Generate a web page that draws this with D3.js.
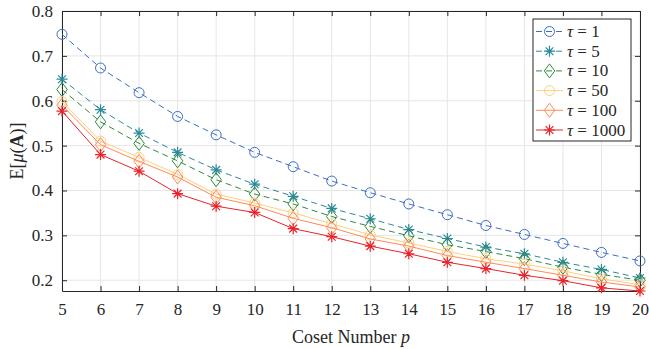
<!DOCTYPE html>
<html>
<head>
<meta charset="utf-8">
<script src="https://cdn.jsdelivr.net/npm/d3@7"></script>
<style>
  body { margin: 0; background: #fff; }
</style>
</head>
<body>
<div id="chart"></div>
<script>
'use strict';

var cosets = [5, 6, 7, 8, 9, 10, 11, 12, 13, 14, 15, 16, 17, 18, 19, 20];
var tau1 = [0.748, 0.673, 0.618, 0.565, 0.524, 0.485, 0.453, 0.421, 0.395, 0.370, 0.346, 0.322, 0.302, 0.282, 0.262, 0.243];
var tau5 = [0.648, 0.580, 0.528, 0.485, 0.446, 0.414, 0.387, 0.360, 0.337, 0.313, 0.293, 0.274, 0.259, 0.240, 0.224, 0.205];
var tau10 = [0.625, 0.553, 0.505, 0.466, 0.424, 0.392, 0.370, 0.342, 0.320, 0.299, 0.279, 0.264, 0.248, 0.229, 0.213, 0.200];
var tau50 = [0.598, 0.510, 0.474, 0.436, 0.392, 0.372, 0.350, 0.326, 0.301, 0.283, 0.264, 0.248, 0.236, 0.221, 0.203, 0.190];
var tau100 = [0.590, 0.502, 0.465, 0.430, 0.385, 0.366, 0.338, 0.317, 0.292, 0.276, 0.255, 0.240, 0.226, 0.211, 0.196, 0.185];
var tau1000 = [0.577, 0.480, 0.443, 0.393, 0.365, 0.351, 0.315, 0.297, 0.276, 0.259, 0.240, 0.226, 0.211, 0.199, 0.183, 0.176];
var seriesNames = ['1', '5', '10', '50', '100', '1000'];
var yTicks = [0.2, 0.3, 0.4, 0.5, 0.6, 0.7, 0.8];

var FONT = '"Liberation Serif", "Times New Roman", Times, "DejaVu Serif", serif';

var series = [
    { name: seriesNames[0], values: tau1, color: '#3c6ec6', marker: 'circle', dash: '6,4' },
    { name: seriesNames[1], values: tau5, color: '#2b8a9c', marker: 'star', dash: '6,4' },
    { name: seriesNames[2], values: tau10, color: '#2e8a3c', marker: 'diamond', dash: '6,4' },
    { name: seriesNames[3], values: tau50, color: '#ffcf80', marker: 'circle', dash: null },
    { name: seriesNames[4], values: tau100, color: '#ff8a55', marker: 'diamond', dash: null },
    { name: seriesNames[5], values: tau1000, color: '#e8232b', marker: 'star', dash: null }
];

var W = 649, H = 349;
var m = { left: 62, right: 9, top: 11, bottom: 58 };

var svg = d3.select('#chart').append('svg')
    .attr('width', W).attr('height', H)
    .style('font-family', FONT);

var x = d3.scaleLinear().domain([5, 20]).range([m.left, W - m.right]);
var y = d3.scaleLinear().domain([0.176, 0.8]).range([H - m.bottom, m.top]);

// grid
var grid = svg.append('g').attr('stroke', '#e6e6e6').attr('stroke-width', 1);
cosets.forEach(function (c) {
    grid.append('line').attr('x1', x(c)).attr('x2', x(c)).attr('y1', y.range()[0]).attr('y2', y.range()[1]);
});
yTicks.forEach(function (t) {
    grid.append('line').attr('x1', x.range()[0]).attr('x2', x.range()[1]).attr('y1', y(t)).attr('y2', y(t));
});

// axes
var xAxis = d3.axisBottom(x).tickValues(cosets).tickFormat(d3.format('d')).tickSizeInner(-5).tickSizeOuter(0).tickPadding(12);
var yAxis = d3.axisLeft(y).tickValues(yTicks).tickFormat(d3.format('.1f')).tickSizeInner(-5).tickSizeOuter(0).tickPadding(9);

var gx = svg.append('g').attr('transform', 'translate(0,' + y.range()[0] + ')').call(xAxis);
var gy = svg.append('g').attr('transform', 'translate(' + x.range()[0] + ',0)').call(yAxis);
var gxTop = svg.append('g').attr('transform', 'translate(0,' + y.range()[1] + ')')
    .call(d3.axisTop(x).tickValues(cosets).tickFormat('').tickSizeInner(-5).tickSizeOuter(0));
var gyRight = svg.append('g').attr('transform', 'translate(' + x.range()[1] + ',0)')
    .call(d3.axisRight(y).tickValues(yTicks).tickFormat('').tickSizeInner(-5).tickSizeOuter(0));

[gx, gy, gxTop, gyRight].forEach(function (g) {
    g.attr('font-family', null).attr('font-size', null);
    g.select('.domain').attr('stroke', '#262626').attr('stroke-width', 1);
    g.selectAll('.tick line').attr('stroke', '#262626');
    g.selectAll('.tick text')
        .style('font-family', FONT).style('font-size', '17px').attr('fill', '#262626');
});

// markers
function drawMarker(g, type, cx, cy, color) {
    if (type === 'circle') {
        g.append('circle').attr('cx', cx).attr('cy', cy).attr('r', 5)
            .attr('fill', 'none').attr('stroke', color).attr('stroke-width', 1);
    } else if (type === 'diamond') {
        var s = 7;
        g.append('path')
            .attr('d', 'M' + cx + ',' + (cy - s) + 'L' + (cx + s * 0.75) + ',' + cy + 'L' + cx + ',' + (cy + s) + 'L' + (cx - s * 0.75) + ',' + cy + 'Z')
            .attr('fill', 'none').attr('stroke', color).attr('stroke-width', 1);
    } else {
        var r = 5.5, d = '';
        [0, 45, 90, 135].forEach(function (a) {
            var rad = a * Math.PI / 180;
            d += 'M' + (cx - r * Math.cos(rad)) + ',' + (cy - r * Math.sin(rad)) +
                'L' + (cx + r * Math.cos(rad)) + ',' + (cy + r * Math.sin(rad));
        });
        g.append('path').attr('d', d).attr('stroke', color).attr('stroke-width', 1.2).attr('fill', 'none');
    }
}

var line = d3.line()
    .x(function (d, i) { return x(cosets[i]); })
    .y(function (d) { return y(d); });

series.forEach(function (s) {
    var g = svg.append('g');
    g.append('path').datum(s.values)
        .attr('d', line)
        .attr('fill', 'none')
        .attr('stroke', s.color)
        .attr('stroke-width', 1)
        .attr('stroke-dasharray', s.dash);
    s.values.forEach(function (v, i) {
        drawMarker(g, s.marker, x(cosets[i]), y(v), s.color);
    });
});

// labels
svg.append('text')
    .attr('x', (x.range()[0] + x.range()[1]) / 2).attr('y', 343)
    .attr('text-anchor', 'middle').attr('fill', '#262626')
    .style('font-family', FONT).style('font-size', '18px')
    .html('Coset Number <tspan font-style="italic">p</tspan>');

svg.append('text')
    .attr('transform', 'translate(23,' + ((y.range()[0] + y.range()[1]) / 2) + ') rotate(-90)')
    .attr('text-anchor', 'middle').attr('fill', '#262626')
    .style('font-family', FONT).style('font-size', '18px')
    .html('E[<tspan font-style="italic">μ</tspan>(<tspan font-weight="bold">A</tspan>)]');

// legend
var lg = svg.append('g').attr('transform', 'translate(533,19)');
lg.append('rect').attr('width', 98).attr('height', 122)
    .attr('fill', '#fff').attr('stroke', '#262626').attr('stroke-width', 1);
series.forEach(function (s, i) {
    var yy = 12.5 + i * 19.7;
    lg.append('line').attr('x1', 3).attr('x2', 30).attr('y1', yy).attr('y2', yy)
        .attr('stroke', s.color).attr('stroke-width', 1).attr('stroke-dasharray', s.dash ? '6,4' : null);
    drawMarker(lg, s.marker, 16.5, yy, s.color);
    lg.append('text').attr('x', 34).attr('y', yy + 5.5).attr('fill', '#262626')
        .style('font-family', FONT).style('font-size', '17px')
        .html('<tspan font-style="italic">τ</tspan> = ' + s.name);
});
</script>
</body>
</html>
